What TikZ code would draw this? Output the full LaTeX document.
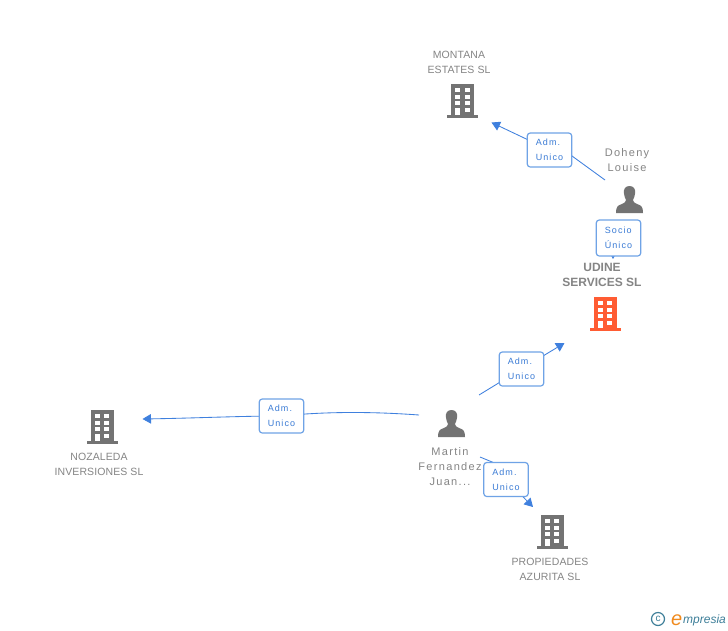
\documentclass[tikz,border=0pt]{standalone}
\usepackage{fontspec}
\setmainfont{Liberation Sans}
\newfontfamily\lblfont[LetterSpace=12]{Liberation Sans}
\newfontfamily\namefont[LetterSpace=1]{Liberation Sans}
\usetikzlibrary{arrows.meta}
\definecolor{txtgrey}{HTML}{858585}
\definecolor{icongrey}{HTML}{737373}
\definecolor{linkblue}{HTML}{3F80DE}
\definecolor{boxblue}{HTML}{6FA3E6}
\definecolor{boxtxt}{HTML}{3A7BD5}
\definecolor{focus}{HTML}{FF5C33}
\definecolor{logoteal}{HTML}{3E7F99}
\definecolor{logoorange}{HTML}{F08A1D}
\tikzset{
  x=1pt,y=-1pt,
  company/.style={font=\namefont\fontsize{10.5}{15}\selectfont,text=txtgrey,align=center,inner sep=0pt},
  focusname/.style={font=\bfseries\fontsize{12}{15}\selectfont,text=txtgrey,align=center,inner sep=0pt},
  personname/.style={font=\lblfont\fontsize{11}{15}\selectfont,text=txtgrey,align=center,inner sep=0pt},
  rolebox/.style={draw=boxblue,line width=1.2pt,rounded corners=3pt,fill=white,text=boxtxt,
    minimum width=44.5pt,minimum height=34pt,inner sep=0pt,align=left,
    font=\lblfont\fontsize{9}{15}\selectfont},
  link/.style={draw=linkblue,line width=.85pt},
  linkend/.style={link,-{Triangle[length=8.5pt,width=9.5pt,fill=linkblue]}},
  pics/building/.style={code={
    \fill[#1] (-11.5,0) rectangle (11.5,31);
    \fill[#1] (-15.5,31) rectangle (15.5,34);
    \foreach \yy/\hh in {4/4,10.5/4,17/4}{
      \fill[white] (-7.2,\yy) rectangle ++(4.7,\hh);
      \fill[white] (2.4,\yy) rectangle ++(4.9,\hh);
    }
    \fill[white] (-7.2,23.5) rectangle (-2.5,31);
    \fill[white] (2.4,23.5) rectangle (7.3,28);
  }},
  pics/person/.style={code={
    \fill[icongrey] (0,0) .. controls (-4.5,0) and (-6,3.5) .. (-5.6,7)
      .. controls (-5.3,10) and (-4.5,12) .. (-3.5,14)
      .. controls (-3.5,16) and (-5,17) .. (-8,18.2)
      .. controls (-12,19.5) and (-13.5,21) .. (-13.5,27)
      -- (13.5,27)
      .. controls (13.5,21) and (12,19.5) .. (8,18.2)
      .. controls (5,17) and (3.5,16) .. (3.5,14)
      .. controls (4.5,12) and (5.3,10) .. (5.6,7)
      .. controls (6,3.5) and (4.5,0) .. (0,0) -- cycle;
  }}
}
\begin{document}
\begin{tikzpicture}
\useasboundingbox (0,0) rectangle (728,630);
\fill[white] (0,0) rectangle (728,630);

% icons
\pic at (462.5,84) {building=icongrey};
\pic at (605,297) {building=focus};
\pic at (102,410) {building=icongrey};
\pic at (552,515) {building=icongrey};
\pic at (629.5,186) {person};
\pic at (451.5,410) {person};

% names
\node[company] (montana) at (459,62.5) {MONTANA\\ESTATES SL};
\node[focusname] (udine) at (602,274.8) {UDINE\\SERVICES SL};
\node[company] (nozaleda) at (99,464) {NOZALEDA\\INVERSIONES SL};
\node[company] (azurita) at (550,569) {PROPIEDADES\\AZURITA SL};
\node[personname] (doheny) at (627,160.5) {Doheny\\Louise};
\node[personname] (martin) at (450,467) {Martin\\Fernandez\\Juan...};

% connector ends
\coordinate (montanaTip) at (491.5,122.5);
\coordinate (dohenyOut) at (605,180);
\coordinate (dohenyIn) at (549.5,139.6);
\coordinate (dohenyDown) at (613,235);
\coordinate (udineIn) at (613,259);
\coordinate (udineTip) at (564.5,343);
\coordinate (martinUp) at (479,395);
\coordinate (martinLeft) at (419,415);
\coordinate (nozTip) at (142.5,419);
\coordinate (martinDown) at (480,457);
\coordinate (azuKnee) at (497,464);
\coordinate (azuTip) at (533,507);

% role boxes positions
\coordinate (b1) at (549.5,150);
\coordinate (b2) at (618.5,238);
\coordinate (b3) at (521.5,369);
\coordinate (b4) at (281.5,416);
\coordinate (b5) at (506,479.5);

% connectors (under the boxes)
\draw[link] (dohenyOut) -- (dohenyIn);
\draw[linkend] (b1) -- (montanaTip);
\draw[linkend] (dohenyDown) -- (udineIn);
\draw[link] (martinUp) -- (b3);
\draw[linkend] (b3) -- (udineTip);
\draw[link] (martinLeft) .. controls (385,412.5) and (335,410.5) .. (b4);
\draw[linkend] (b4) .. controls (240,416) and (200,418) .. (nozTip);
\draw[link] (martinDown) -- (azuKnee);
\draw[linkend] (b5) -- (azuTip);

% role boxes
\node[rolebox] (role1) at (b1) {Adm.\\Unico};
\node[rolebox,minimum height=36pt] (role2) at (b2) {Socio\\Único};
\node[rolebox] (role3) at (b3) {Adm.\\Unico};
\node[rolebox] (role4) at (b4) {Adm.\\Unico};
\node[rolebox] (role5) at (b5) {Adm.\\Unico};

% logo
\node[circle,draw=logoteal,line width=1.2pt,minimum size=13pt,inner sep=0pt,text=logoteal,
  font=\fontsize{10}{10}\selectfont] (logoc) at (658,619) {c};
\node[inner sep=0pt,anchor=base west,text=logoorange,font=\fontsize{20}{20}\selectfont\itshape] (logoe) at (671,625) {e};
\node[inner sep=0pt,anchor=base west,text=logoteal,font=\fontsize{12}{12}\selectfont\itshape] (logot) at (683,623.5) {mpresia};
\end{tikzpicture}
\end{document}
